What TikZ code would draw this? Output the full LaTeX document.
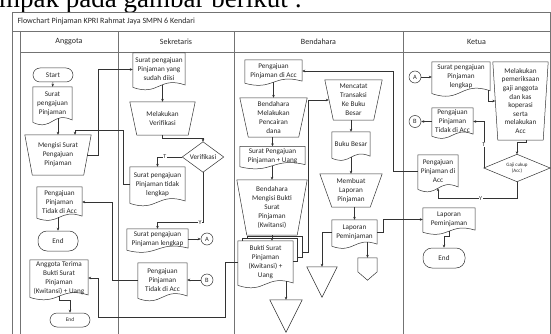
\documentclass[tikz,border=0pt]{standalone}
\usepackage{fontspec}
\setmainfont{Carlito}
\newfontfamily\serifbig{Liberation Serif}
\usetikzlibrary{arrows.meta,calc}

\newcommand\docsh[2]{\path[shp] ($(#1.south west)+(0pt,-0.3*#2pt)$) -- (#1.north west) -- (#1.north east) -- ($(#1.south east)+(0pt,0.3*#2pt)$) .. controls ($(#1.south)+(0pt,2.6*#2pt)$) and ($(#1.south)+(0pt,-2.6*#2pt)$) .. ($(#1.south west)+(0pt,-0.3*#2pt)$) -- cycle;}
\newcommand\manop[2]{\path[shp] (#1.north west) -- (#1.north east) -- ([xshift=-#2pt]#1.south east) -- ([xshift=#2pt]#1.south west) -- cycle;}
\newcommand\diam[1]{\path[shp] (#1.north) -- (#1.east) -- (#1.south) -- (#1.west) -- cycle;}
\newcommand\tri[1]{\path[shp] (#1.north west) -- (#1.north east) -- (#1.south) -- cycle;}

\tikzset{
  shp/.style={draw=black!80, line width=0.5pt},
  frm/.style={draw=black!55, line width=0.6pt},
  arr/.style={draw=black!80, line width=0.5pt, -{Stealth[length=3pt,width=2.6pt]}},
  txt/.style={font=\fontsize{7.2}{9}\selectfont, text=black!85, align=center},
  bx/.style 2 args={txt, inner sep=0pt, minimum width=#1pt, minimum height=#2pt},
  term/.style={draw=black!80, line width=0.5pt},
  hdr/.style={font=\fontsize{8}{9}\selectfont, text=black!85},
  cnode/.style={circle, draw=black!80, line width=.5pt, minimum size=12pt, inner sep=0pt, font=\fontsize{6.5}{7}\selectfont, text=black!85},
  lbl/.style={font=\fontsize{6}{6}\selectfont, fill=white, inner sep=0.5pt, text=black!85},
}

\begin{document}
\begin{tikzpicture}[x=1pt,y=-1pt]
\useasboundingbox (0,0) rectangle (551,334);
\clip (0,0) rectangle (551,334);

% top text (cut)
\node[anchor=base west, font=\serifbig\fontsize{27}{30}\selectfont, inner sep=0pt] (toptext) at (-1,7.5) {mpak pada gambar berikut :};

% frame
\draw[frm] (12,12) rectangle (550,345);
\draw[frm] (12,31) -- (550,31);
\draw[frm] (20,52) -- (550,52);
\draw[frm] (20,31) -- (20,345);
\draw[frm] (118,31) -- (118,345);
\draw[frm] (234,31) -- (234,345);
\draw[frm] (403,31) -- (403,345);
\node[hdr, anchor=west] (title) at (14,21.5) {Flowchart Pinjaman KPRI Rahmat Jaya SMPN 6 Kendari};
\node[hdr] (hA) at (69,42) {Anggota};
\node[hdr] (hS) at (176,42) {Sekretaris};
\node[hdr] (hB) at (318.5,42) {Bendahara};
\node[hdr] (hK) at (476.5,42) {Ketua};

% ---------- Anggota ----------
\node[bx={40}{14}, term, rounded corners=7pt] (startA) at (53,75) {Start};
\node[bx={39}{34}] (dA1) at (52.5,104) {Surat\\pengajuan\\Pinjaman}; \docsh{dA1}{4}
\node[bx={66}{40}] (mA) at (58,155) {Mengisi Surat\\Pengajuan\\Pinjaman}; \manop{mA}{7.5}
\node[bx={45}{30}] (dA2) at (59.5,202) {Pengajuan\\Pinjaman\\Tidak di Acc}; \docsh{dA2}{3.5}
\node[bx={40}{20}, term, rounded corners=9pt] (endA1) at (58,241) {End};
\node[bx={58}{36}] (dA3) at (59,278) {Anggota Terima\\Bukti Surat\\Pinjaman\\(Kwitansi) + Uang}; \docsh{dA3}{4}
\node[bx={40}{14}, term, rounded corners=7pt, font=\fontsize{5.5}{6}\selectfont] (endA2) at (70,320) {End};

% ---------- Sekretaris ----------
\node[bx={52}{33}] (dS1) at (159,69.5) {Surat pengajuan\\Pinjaman yang\\sudah diisi}; \docsh{dS1}{4}
\node[bx={65}{33}] (mS1) at (162.5,118.5) {Melakukan\\Verifikasi}; \manop{mS1}{7}
\node[bx={41}{30}] (vS) at (203,157) {Verifikasi}; \diam{vS}
\node[bx={55}{35}] (dS2) at (157.5,184.5) {Surat pengajuan\\Pinjaman tidak\\lengkap}; \docsh{dS2}{4}
\node[bx={61}{20}] (dS3) at (157.5,239) {Surat pengajuan\\Pinjaman lengkap}; \docsh{dS3}{3.5}
\node[cnode] (cA) at (207,239) {A};
\node[bx={49}{34}] (dS4) at (162.5,280) {Pengajuan\\Pinjaman\\Tidak di Acc}; \docsh{dS4}{4}
\node[cnode] (cB) at (207,280) {B};

% ---------- Bendahara ----------
\node[bx={57}{22}] (dB1) at (273.5,71) {Pengajuan\\Pinjaman di Acc}; \docsh{dB1}{3.5}
\node[bx={67}{39}] (mB1) at (273.5,117.5) {Bendahara\\Melakukan\\Pencairan\\dana}; \manop{mB1}{8.5}
\node[bx={65}{19}] (dB2) at (272.5,156) {Surat Pengajuan\\Pinjaman + Uang}; \docsh{dB2}{3.5}
\node[bx={70}{55}] (mB2) at (272,207.5) {Bendahara\\Mengisi Bukti\\Surat\\Pinjaman\\(Kwitansi)}; \manop{mB2}{10}
\node[bx={55}{43}] (mdB) at (265.5,262.5) {Bukti Surat\\Pinjaman\\(Kwitansi) +\\Uang}; \docsh{mdB}{4}
\path[shp] ($(mdB.north west)+(4.5,0)$) -- ++(0,-2.5) -- ($(mdB.north east)+(4.5,-2.5)$) -- ++(0,23) -- ++(-4.5,0);
\path[shp] ($(mdB.north west)+(9,-2.5)$) -- ++(0,-2.5) -- ($(mdB.north east)+(9,-5)$) -- ++(0,21) -- ++(-4.5,0);
\node[bx={32}{32}] (tri1) at (286,316) {}; \tri{tri1}
\node[bx={57}{40}] (mB3) at (353.5,100) {Mencatat\\Transaksi\\Ke Buku\\Besar}; \manop{mB3}{8.5}
\node[bx={38}{25}] (dB3) at (351,144.5) {Buku Besar}; \docsh{dB3}{3.5}
\node[bx={62}{33}] (mB4) at (351,190.5) {Membuat\\Laporan\\Pinjaman}; \manop{mB4}{12}
\node[bx={45}{25}] (dB4) at (354.5,232.5) {Laporan\\Peminjaman}; \docsh{dB4}{3.5}
\node[bx={30}{30}] (tri2) at (322,282) {}; \tri{tri2}
\node[bx={19}{22}] (pent) at (367.5,269) {};
\path[shp] (pent.north west) -- (pent.north east) -- ($(pent.north east)+(0,14)$) -- (pent.south) -- ($(pent.north west)+(0,14)$) -- cycle;

% ---------- Ketua ----------
\node[cnode] (cA2) at (415,77) {A};
\node[bx={58}{30}] (dK1) at (461,77) {Surat pengajuan\\Pinjaman\\lengkap}; \docsh{dK1}{4.5}
\node[bx={55}{78}, font=\fontsize{7.2}{8.6}\selectfont] (mK) at (520.5,101) {Melakukan\\pemeriksaan\\gaji anggota\\dan kas\\koperasi\\serta\\melakukan\\Acc}; \manop{mK}{5}
\node[bx={66}{27}, font=\fontsize{5}{6}\selectfont] (vK) at (517,168) {Gaji cukup\\(Acc)}; \diam{vK}
\node[bx={41}{27}] (dK2) at (452.5,121.5) {Pengajuan\\Pinjaman\\Tidak di Acc}; \docsh{dK2}{3.5}
\node[cnode] (cB2) at (415,121.5) {B};
\node[bx={40}{33}] (dK3) at (438,171.5) {Pengajuan\\Pinjaman di\\Acc}; \docsh{dK3}{4}
\node[bx={52}{23}] (dK4) at (449,219.5) {Laporan\\Peminjaman}; \docsh{dK4}{3.5}
\node[bx={42}{20}, term, rounded corners=9pt] (endK) at (444,258) {End};

% ---------- connectors ----------
\draw[arr] (startA.south) -- (dA1.north);
\draw[arr] ([yshift=2.8pt]mA.north |- dA1.south) -- (mA.north);
\draw[arr] (dS2.west) -| (123,130) -| ([xshift=17pt]mA.north);
\draw[arr] ($(mA.east)+(-3.75,0)$) -| ($(dS1.west)+(-35,0)$) -- (dS1.west);
\draw[arr] (dS4.west) -| ($(dA2.east)+(30,0)$) -- (dA2.east);
\draw[arr] (endA1.north |- dA2.south) -- (endA1.north);
\draw[arr] (mdB.west) -| (225,317) -| ($(dA3.east)+(10,0)$) -- (dA3.east);
\draw[arr] (dA3.south) -- ++(0,4) -| (endA2.north);

\draw[arr] ([yshift=1.2pt]mS1.north |- dS1.south) -- (mS1.north);
\draw[arr] (mS1.south) |- ($(vS.north)+(0,-4)$) -- (vS.north);
\draw[arr] (vS.west) -| node[lbl, pos=0.35]{T} (dS2.north);
\draw[arr] (vS.south) -- ++(0,50) node[lbl, pos=1, xshift=-3pt]{Y} -| (dS3.north);
\draw[arr] (dS3.east) -- (cA);
\draw[arr] (cB) -- (dS4.east);

\draw[arr] (dK3.west) -| ($(dB1.east)+(91,0)$) -- (dB1.east);
\draw[arr] (dB1.south) -- (dB1.south |- mB1.north);
\draw[arr] (dB2.north |- mB1.south) -- (dB2.north);
\draw[arr] (mB2.north |- dB2.south) -- (mB2.north);
\draw[arr] (mB2.south) -- (mB2.south |- mdB.north);
\draw[arr] ([xshift=9pt,yshift=10pt]mdB.east) -| ($(mB3.west)+(-17,0)$) -- ($(mB3.west)+(4,0)$);
\draw[arr] ([yshift=3pt]tri1.north |- mdB.south) -- (tri1.north);
\draw[arr] (dB3.north |- mB3.south) -- (dB3.north);
\draw[arr] (dB3.south) -- (mB4.north);
\draw[arr] (dB4.north |- mB4.south) -- (dB4.north);
\draw[arr] (dB4.west) -| (tri2.north);
\draw[arr] ([yshift=3.1pt]pent.north |- dB4.south) -- (pent.north);
\draw[arr] (dB4.east) -| ($(dK4.west)+(-40,0)$) -- (dK4.west);

\draw[arr] (cA2) -- (dK1.west);
\draw[arr] ([xshift=-2pt,yshift=2pt]dK1.south east) |- ($(mK.west)+(2.5,0)$);
\draw[arr] ([xshift=6pt]mK.south) |- ($(vK.north)+(0,-12)$) -- (vK.north);
\draw[arr] (vK.west) |- node[lbl, pos=0.25]{T} (dK2.east);
\draw[arr] (dK2.west) -- (cB2);
\draw[arr] (vK.south) |- node[lbl, pos=0.73]{Y} ($(dK3.south)+(0,10)$) -- (dK3.south);
\draw[arr] (dK4.south) -- ++(0,5) -| (endK.north);
\end{tikzpicture}
\end{document}
